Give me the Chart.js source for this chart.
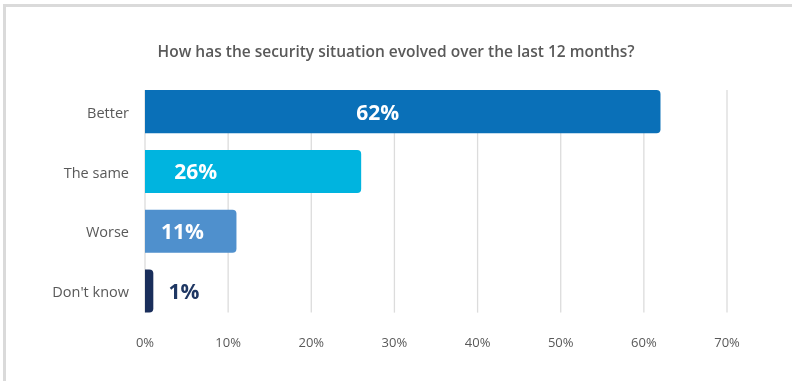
<!DOCTYPE html>
<html>
<head>
<meta charset="utf-8">
<script src="https://cdn.jsdelivr.net/npm/chart.js@4/dist/chart.umd.min.js"></script>
<style>
  html, body { margin: 0; padding: 0; background: #ffffff; overflow: hidden; }
  .frame {
    position: absolute; left: 3px; top: 4px; width: 820px; height: 400px;
    border-left: 3px solid #dadada; border-top: 3px solid #dadada;
  }
  .wrap { position: absolute; left: 0; top: 0; width: 792px; height: 381px; }
</style>
</head>
<body>
<div class="frame"></div>
<div class="wrap"><canvas id="chart" width="792" height="381"></canvas></div>
<script>
// Survey answers and shares (percent)
const categories = ["Better", "The same", "Worse", "Don't know"];
const shares = [62, 26, 11, 1];
const tickValues = [0, 10, 20, 30, 40, 50, 60, 70];
const chartTitle = "How has the security situation evolved over the last 12 months?";

// Presentation settings
const barColors = ["#0a70b8", "#00b4df", "#4f90cd", "#1a2e5b"];
const labelColors = ["#ffffff", "#ffffff", "#ffffff", "#1f3763"];
const labelCenters = [28, 6.1, 4.5, 4.7]; // along the value axis, in percent units
const textGrey = "#595959";
const FONT = "'Open Sans', 'DejaVu Sans', sans-serif";

// Title centred across the whole canvas
const pageTitle = {
  id: 'pageTitle',
  afterDraw(chart) {
    const ctx = chart.ctx;
    ctx.save();
    ctx.font = "600 15.5px " + FONT;
    ctx.fillStyle = textGrey;
    ctx.textAlign = 'center';
    ctx.textBaseline = 'middle';
    ctx.fillText(chartTitle, chart.width / 2, 53);
    ctx.restore();
  }
};

// Vertical guide lines that span from the first bar's top to the last bar's bottom
const guideLines = {
  id: 'guideLines',
  beforeDatasetsDraw(chart) {
    const x = chart.scales.x;
    const meta = chart.getDatasetMeta(0);
    const first = meta.data[0], last = meta.data[meta.data.length - 1];
    const top = first.y - first.height / 2;
    const bottom = last.y + last.height / 2;
    const ctx = chart.ctx;
    ctx.save();
    ctx.strokeStyle = '#dcdcdc';
    ctx.lineWidth = 1.3;
    tickValues.forEach(v => {
      const px = x.getPixelForValue(v);
      ctx.beginPath();
      ctx.moveTo(px, top);
      ctx.lineTo(px, bottom);
      ctx.stroke();
    });
    ctx.restore();
  }
};

// Bold percentage labels on the bars
const valueLabels = {
  id: 'valueLabels',
  afterDatasetsDraw(chart) {
    const x = chart.scales.x;
    const meta = chart.getDatasetMeta(0);
    const ctx = chart.ctx;
    ctx.save();
    ctx.font = "bold 21px " + FONT;
    ctx.textAlign = 'center';
    ctx.textBaseline = 'middle';
    meta.data.forEach((bar, i) => {
      ctx.fillStyle = labelColors[i];
      ctx.fillText(shares[i] + '%', x.getPixelForValue(labelCenters[i]), bar.y + 2);
    });
    ctx.restore();
  }
};

new Chart(document.getElementById('chart'), {
  type: 'bar',
  data: {
    labels: categories,
    datasets: [{
      data: shares,
      backgroundColor: barColors,
      borderRadius: 4,
      borderSkipped: 'start',
      barPercentage: 0.72,
      categoryPercentage: 1.0
    }]
  },
  options: {
    indexAxis: 'y',
    responsive: false,
    animation: false,
    devicePixelRatio: 1,
    layout: { padding: { left: 0, right: 65, top: 81.7, bottom: 0 } },
    plugins: {
      legend: { display: false },
      tooltip: { enabled: false },
      title: { display: false }
    },
    scales: {
      x: {
        min: 0,
        max: 70,
        afterBuildTicks(scale) { scale.ticks = tickValues.map(v => ({ value: v })); },
        afterFit(scale) { scale.height = 60; },
        grid: { display: false, drawTicks: false },
        border: { display: false },
        ticks: {
          padding: 14,
          color: textGrey,
          font: { family: FONT, size: 13 },
          callback: v => v + '%'
        }
      },
      y: {
        afterFit(scale) { scale.width = 145; },
        grid: { display: false, drawTicks: false },
        border: { display: false },
        ticks: {
          padding: 16,
          labelOffset: 2,
          color: textGrey,
          font: { family: FONT, size: 14.5 }
        }
      }
    }
  },
  plugins: [guideLines, valueLabels, pageTitle]
});
</script>
</body>
</html>
